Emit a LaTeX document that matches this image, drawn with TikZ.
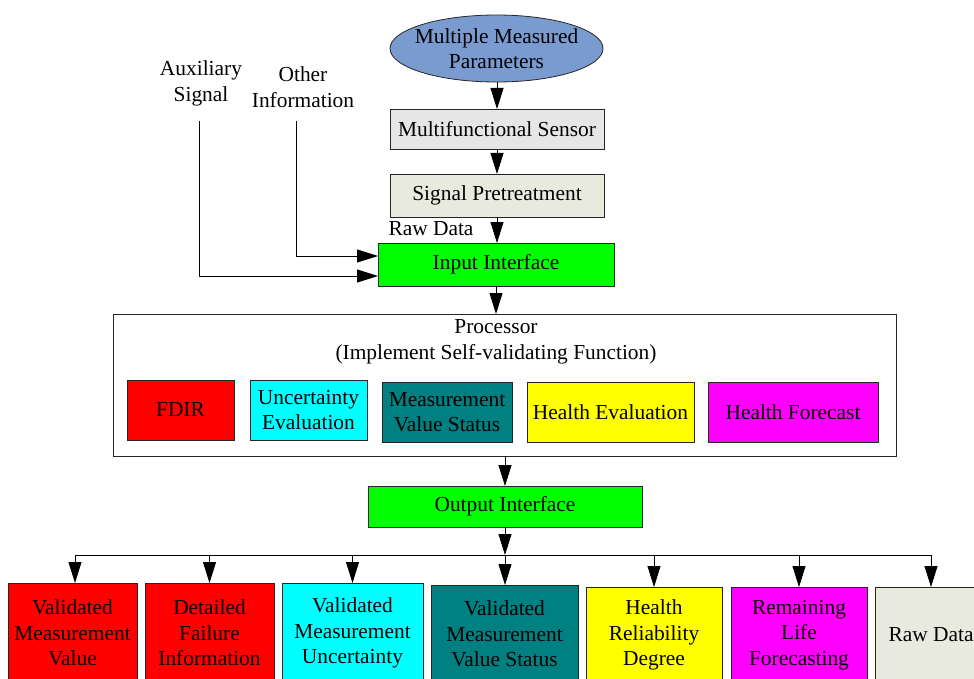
\documentclass[tikz,border=0pt]{standalone}
\usepackage{fontspec}
\setmainfont{Liberation Serif}
\usetikzlibrary{shapes.geometric,arrows.meta}
\definecolor{ellblue}{RGB}{122,155,207}
\definecolor{sensgray}{RGB}{230,230,230}
\definecolor{pregray}{RGB}{233,234,222}
\definecolor{mygreen}{RGB}{0,255,0}
\definecolor{myred}{RGB}{255,0,0}
\definecolor{mycyan}{RGB}{0,255,255}
\definecolor{myteal}{RGB}{0,128,128}
\definecolor{myyellow}{RGB}{255,255,0}
\definecolor{mymagenta}{RGB}{255,0,255}
\tikzset{
  txt/.style={font=\fontsize{21.4}{25.5}\selectfont, align=center, inner sep=0pt},
  box/.style={txt, draw=black!85, line width=0.8pt, anchor=north west, outer sep=0pt},
  arr/.style={draw=black, line width=0.8pt, -{Triangle[length=21pt,width=13pt]}},
  ln/.style={draw=black, line width=0.8pt},
}
\begin{document}
\begin{tikzpicture}[x=1pt,y=-1pt]
\useasboundingbox (0,0) rectangle (974,679);
\clip (0,0) rectangle (974,679);
% top chain
\node[ellipse, draw=black!85, line width=0.8pt, fill=ellblue, minimum width=213pt, minimum height=67pt, inner sep=0pt, outer sep=0pt] (ell) at (496.5,48.5) {};
\node[txt] (elltxt) at (ell.center) {Multiple Measured\\Parameters};
\node[box, fill=sensgray, minimum width=214pt, minimum height=40pt] (sens) at (390,109) {Multifunctional Sensor};
\node[box, fill=pregray, minimum width=214pt, minimum height=43pt] (pre) at (390,174) {Signal Pretreatment};
\node[box, fill=mygreen, minimum width=236pt, minimum height=43pt] (inp) at (378,243) {Input Interface};
\node[txt] (rawlbl) at (431,229) {Raw Data};
\node[txt] (aux) at (201,83.5) {Auxiliary\\Signal};
\node[txt] (oth) at (303,87) {Other\\Information};
\coordinate (auxS) at (199,121);
\coordinate (auxE) at (378,276);
\coordinate (othS) at (296,121);
\coordinate (othE) at (378,256);
\draw[arr] (ell.south -| sens.north) -- (sens.north);
\draw[arr] (sens.south) -- (pre.north);
\draw[arr] (pre.south) -- (pre.south |- inp.north);
\draw[arr] (auxS) |- (auxE);
\draw[arr] (othS) |- (othE);
% processor
\node[box, minimum width=783pt, minimum height=142pt] (proc) at (113,314) {};
\node[txt] (ptitle) at (496,342) {Processor\\(Implement Self-validating Function)};
\node[box, fill=myred, minimum width=107pt, minimum height=60pt] (fdir) at (127,380) {FDIR};
\node[box, fill=mycyan, minimum width=117pt, minimum height=60pt] (unc) at (250,380) {Uncertainty\\Evaluation};
\node[box, fill=myteal, minimum width=130pt, minimum height=60pt] (mvs) at (382,382) {Measurement\\Value Status};
\node[box, fill=myyellow, minimum width=167pt, minimum height=60pt] (heval) at (527,382) {Health Evaluation};
\node[box, fill=mymagenta, minimum width=170pt, minimum height=60pt] (hfor) at (708,382) {Health Forecast};
\draw[arr] (inp.south) -- (inp.south |- proc.north);
% output
\node[box, fill=mygreen, minimum width=274pt, minimum height=41pt] (out) at (368,486) {Output Interface};
\draw[arr] (out.north |- proc.south) -- (out.north);
\coordinate (bus) at (505,555);
\draw[arr] (out.south) -- (bus);
% bottom boxes
\node[box, fill=myred, minimum width=129pt, minimum height=100pt] (b1) at (8,583) {Validated\\Measurement\\Value};
\node[box, fill=myred, minimum width=129pt, minimum height=100pt] (b2) at (145,583) {Detailed\\Failure\\Information};
\node[box, fill=mycyan, minimum width=141pt, minimum height=100pt] (b3) at (282,583) {Validated\\Measurement\\Uncertainty};
\node[box, fill=myteal, minimum width=147pt, minimum height=98pt] (b4) at (431,585) {Validated\\Measurement\\Value Status};
\node[box, fill=myyellow, minimum width=136pt, minimum height=96pt] (b5) at (586,587) {Health\\Reliability\\Degree};
\node[box, fill=mymagenta, minimum width=136pt, minimum height=96pt] (b6) at (731,587) {Remaining\\Life\\Forecasting};
\node[box, fill=pregray, minimum width=112pt, minimum height=96pt] (b7) at (875,587) {Raw Data};
\coordinate (busL) at (75,555);
\coordinate (busR) at (931,555);
\draw[ln] (busL) -- (busR);
\draw[arr] (busL) -- (b1.north -| busL);
\draw[arr] (b2.north |- bus) -- (b2.north);
\draw[arr] (b3.north |- bus) -- (b3.north);
\draw[arr] (bus) -- (b4.north -| bus);
\draw[arr] (b5.north |- bus) -- (b5.north);
\draw[arr] (b6.north |- bus) -- (b6.north);
\draw[arr] (busR) -- (b7.north -| busR);
\end{tikzpicture}
\end{document}
